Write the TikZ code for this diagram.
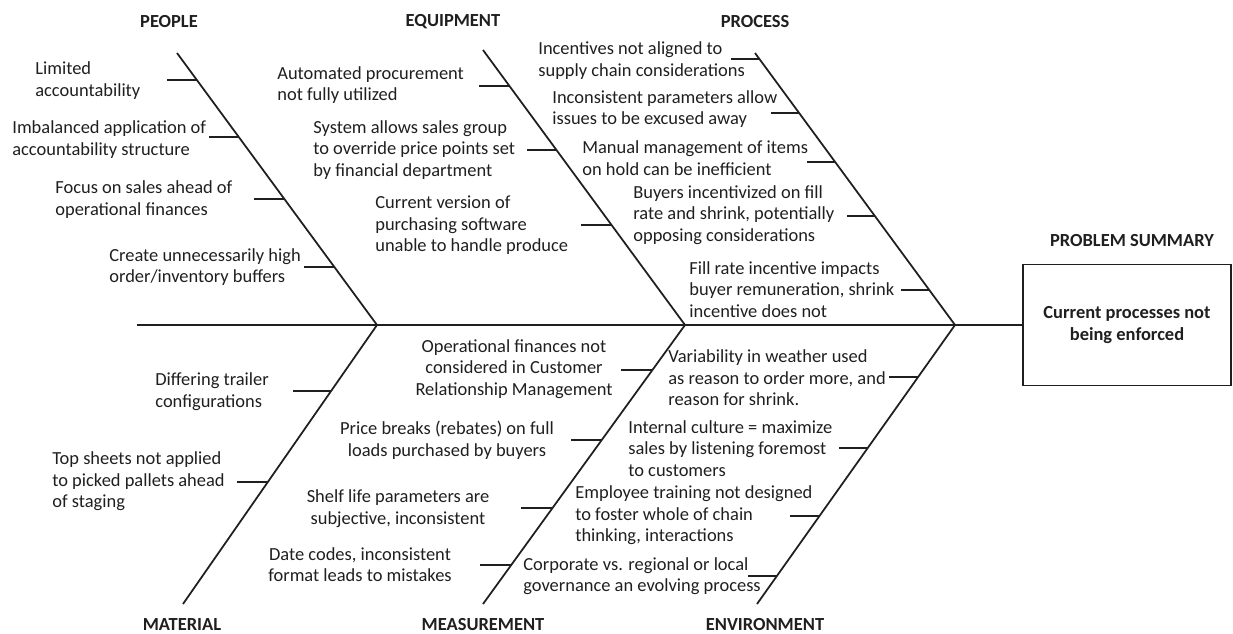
\documentclass[tikz,border=0pt]{standalone}
\usepackage{fontspec}
\setmainfont{Carlito}
\usepackage{tikz}
\usetikzlibrary{positioning}
\usetikzlibrary{calc}
\colorlet{inkcol}{black!88}
\tikzset{
  bone/.style={line width=1pt, draw=inkcol},
  spine/.style={line width=1.1pt, draw=inkcol},
  tick/.style={line width=1pt, draw=inkcol},
  cause/.style={font=\fontsize{10.5}{12.3}\selectfont, text=inkcol, align=left, anchor=west, inner sep=0pt},
  mcause/.style={cause, align=center, anchor=center},
  head/.style={font=\fontsize{10.5}{12.5}\selectfont\bfseries, text=inkcol, inner sep=0pt},
  summarybox/.style={draw=inkcol, line width=0.8pt, minimum width=4.16cm, minimum height=2.42cm,
    font=\fontsize{10.5}{12.5}\selectfont\bfseries, text=inkcol, align=center}
}

\begin{document}
\begin{tikzpicture}[x=0.02cm, y=-0.02cm]
\useasboundingbox (0,0) rectangle (1233,634);

% ---------------- Head and spine ----------------
\node[head] (sumhead) at (1132,241) {PROBLEM SUMMARY};
\node[summarybox] (summary) at (1127,325) {Current processes not\\being enforced};
\coordinate (tail) at (137,325);
\draw[spine] (tail) -- (summary.west);

% bone end points
\coordinate (pplTop)  at (177,53);
\coordinate (pplFoot) at (377,325);
\coordinate (eqTop)   at (483,50);
\coordinate (eqFoot)  at (685,325);
\coordinate (prTop)   at (755,53);
\coordinate (prFoot)  at (955,325);
\coordinate (maEnd)   at (183,604);
\coordinate (meEnd)   at (483,604);
\coordinate (enEnd)   at (757,604);

\draw[bone] (pplTop) -- (pplFoot);
\draw[bone] (eqTop) -- (eqFoot);
\draw[bone] (prTop) -- (prFoot);
\draw[bone] (pplFoot) -- (maEnd);
\draw[bone] (eqFoot) -- (meEnd);
\draw[bone] (prFoot) -- (enEnd);

% ---------------- Category headings ----------------
\node[head] (hPeople)  at (169,22)  {PEOPLE};
\node[head] (hEquip)   at (453,22)  {EQUIPMENT};
\node[head] (hProcess) at (755,22)  {PROCESS};
\node[head] (hMat)     at (182,625) {MATERIAL};
\node[head] (hMeas)    at (483,625) {MEASUREMENT};
\node[head] (hEnv)     at (765,625) {ENVIRONMENT};

% ---------------- Ticks on the bones ----------------
\foreach \f in {0.099,0.309,0.537,0.787}
  \draw[tick] ($(pplTop)!\f!(pplFoot)$) -- ++(-30,0);
\foreach \f in {0.131,0.364,0.636}
  \draw[tick] ($(eqTop)!\f!(eqFoot)$) -- ++(-30,0);
\foreach \f in {0.022,0.221,0.401,0.599,0.871}
  \draw[tick] ($(prTop)!\f!(prFoot)$) -- ++(-28,0);
\foreach \f/\l in {0.237/38,0.563/31}
  \draw[tick] ($(pplFoot)!\f!(maEnd)$) -- ++(-\l,0);
\foreach \f in {0.161,0.412,0.656,0.860}
  \draw[tick] ($(eqFoot)!\f!(meEnd)$) -- ++(-31,0);
\foreach \f in {0.186,0.441,0.685,0.900}
  \draw[tick] ($(prFoot)!\f!(enEnd)$) -- ++(-29,0);

% ---------------- People ----------------
\node[cause] (ppl1) at (35,80.5)  {Limited\\accountability};
\node[cause] (ppl2) at (12,139.5) {Imbalanced application of\\accountability structure};
\node[cause] (ppl3) at (55,199.5) {Focus on sales ahead of\\operational finances};
\node[cause] (ppl4) at (109,267)  {Create unnecessarily high\\order/inventory buffers};

% ---------------- Equipment ----------------
\node[cause] (eq1) at (277,85)    {Automated procurement\\not fully utilized};
\node[cause] (eq2) at (313,150)   {System allows sales group\\to override price points set\\by financial department};
\node[cause] (eq3) at (375,225.5) {Current version of\\purchasing software\\unable to handle produce};

% ---------------- Process ----------------
\node[cause] (pr1) at (538,60.5) {Incentives not aligned to\\supply chain considerations};
\node[cause] (pr2) at (552,109)  {Inconsistent parameters allow\\issues to be excused away};
\node[cause] (pr3) at (582,158)  {Manual management of items\\on hold can be inefficient};
\node[cause] (pr4) at (633,215)  {Buyers incentivized on fill\\rate and shrink, potentially\\opposing considerations};
\node[cause] (pr5) at (689,289.5) {Fill rate incentive impacts\\buyer remuneration, shrink\\incentive does not};

% ---------------- Material ----------------
\node[cause] (ma1) at (155,391.5) {Differing trailer\\configurations};
\node[cause] (ma2) at (52,481.5)  {Top sheets not applied\\to picked pallets ahead\\of staging};

% ---------------- Measurement ----------------
\node[mcause] (me1) at (514,369)   {Operational finances not\\considered in Customer\\Relationship Management};
\node[mcause] (me2) at (447,440.5) {Price breaks (rebates) on full\\loads purchased by buyers};
\node[mcause] (me3) at (398,508.5) {Shelf life parameters are\\subjective, inconsistent};
\node[mcause] (me4) at (360,564.5) {Date codes, inconsistent\\format leads to mistakes};

% ---------------- Environment ----------------
\node[cause] (en1) at (668,378)   {Variability in weather used\\as reason to order more, and\\reason for shrink.};
\node[cause] (en2) at (628,448.5) {Internal culture = maximize\\sales by listening foremost\\to customers};
\node[cause] (en3) at (575,515.5) {Employee training not designed\\to foster whole of chain\\thinking, interactions};
\node[cause] (en4) at (523,576)   {Corporate vs. regional or local\\governance an evolving process};

\end{tikzpicture}
\end{document}
